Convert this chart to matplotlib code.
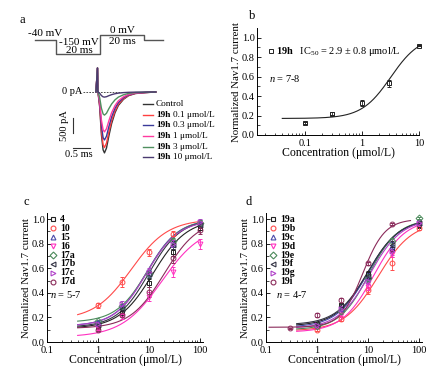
import numpy as np
import matplotlib
matplotlib.use('Agg')
import matplotlib.pyplot as plt

plt.rcParams['font.family'] = ['Liberation Serif', 'DejaVu Serif']
plt.rcParams['mathtext.fontset'] = 'custom'
plt.rcParams['mathtext.rm'] = 'Liberation Serif'
plt.rcParams['mathtext.it'] = 'Liberation Serif:italic'
plt.rcParams['mathtext.bf'] = 'Liberation Serif:bold'

# ---- panel a: voltage protocol and current traces ----
prot_t = [-9.5, 0, 0, 20, 20, 40, 40, 48.6]        # ms
prot_v = [-40, -40, -150, -150, 0, 0, -40, -40]    # mV

trace_bold = ['', '19h', '19h', '19h', '19h', '19h']
trace_labels = ['Control', '0.1 μmol/L', '0.3 μmol/L', '1 μmol/L', '3 μmol/L', '10 μmol/L']
trace_peaks = [2030, 1850, 1600, 1330, 770, 170]   # pA
trace_colors = ['#333333', '#ff4040', '#3a3a9a', '#ff3aa0', '#4f8f5f', '#4a3a70']
# normalised current template (t in ms)
tmpl_t = [0.0, 0.05, 0.10, 0.15, 0.19, 0.25, 0.32, 0.40, 0.50, 0.60, 0.75, 0.90, 1.10, 1.40, 1.70]
tmpl_i = [0.0, 0.25, 0.70, 0.95, 1.00, 0.92, 0.72, 0.52, 0.34, 0.22, 0.12, 0.06, 0.025, 0.01, 0.0]
art_t = [-0.06, -0.015, -0.005]
art_i = [0.0, 800, 0.0]

# ---- panel b ----
b_conc = [0.1, 0.3, 1, 3, 10]
b_val = [0.12, 0.22, 0.33, 0.53, 0.92]
b_err = [0.01, 0.015, 0.03, 0.04, 0.01]
b_fit = (0.17, 1.02, 3.2, 1.7)   # bottom, top, IC50, hill

# ---- panel c ----
c_names = ['4', '10', '15', '16', '17a', '17b', '17c', '17d']
c_conc = [1, 3, 10, 30, 100]
c_vals = [[0.12, 0.24, 0.48, 0.73, 0.93],
          [0.30, 0.49, 0.73, 0.88, 0.97],
          [0.16, 0.29, 0.56, 0.80, 0.97],
          [0.11, 0.21, 0.37, 0.57, 0.80],
          [0.17, 0.29, 0.55, 0.82, 0.97],
          [0.14, 0.27, 0.55, 0.79, 0.95],
          [0.15, 0.31, 0.57, 0.80, 0.98],
          [0.10, 0.22, 0.41, 0.68, 0.91]]
c_errs = [[0.01, 0.02, 0.03, 0.03, 0.02],
          [0.02, 0.04, 0.03, 0.02, 0.01],
          [0.01, 0.02, 0.03, 0.03, 0.02],
          [0.01, 0.02, 0.04, 0.04, 0.04],
          [0.01, 0.02, 0.03, 0.03, 0.02],
          [0.01, 0.02, 0.03, 0.03, 0.02],
          [0.01, 0.02, 0.03, 0.03, 0.02],
          [0.01, 0.02, 0.04, 0.04, 0.03]]
c_fits = [(0.11, 1.00, 12, 1.3), (0.18, 1.00, 4.5, 1.2), (0.13, 1.00, 9, 1.4), (0.04, 0.95, 18, 1.1),
          (0.16, 1.00, 9.5, 1.4), (0.12, 1.00, 10, 1.4), (0.13, 0.99, 9, 1.4), (0.11, 1.00, 20, 1.3)]

# ---- panel d ----
d_names = ['19a', '19b', '19c', '19d', '19e', '19f', '19g', '19i']
d_conc = [[1, 3, 10, 30, 100]] * 7 + [[0.3, 1, 3, 10, 30]]
d_vals = [[0.15, 0.30, 0.55, 0.76, 0.95],
          [0.10, 0.19, 0.42, 0.64, 0.93],
          [0.14, 0.27, 0.53, 0.78, 0.97],
          [0.12, 0.22, 0.45, 0.72, 0.96],
          [0.13, 0.25, 0.52, 0.82, 1.01],
          [0.15, 0.29, 0.54, 0.79, 0.97],
          [0.14, 0.27, 0.50, 0.74, 0.97],
          [0.11, 0.22, 0.34, 0.64, 0.96]]
d_errs = [[0.01, 0.02, 0.03, 0.03, 0.02],
          [0.01, 0.02, 0.03, 0.05, 0.02],
          [0.01, 0.02, 0.03, 0.03, 0.02],
          [0.01, 0.02, 0.03, 0.03, 0.02],
          [0.01, 0.02, 0.03, 0.03, 0.01],
          [0.01, 0.02, 0.03, 0.03, 0.02],
          [0.01, 0.02, 0.03, 0.03, 0.02],
          [0.005, 0.015, 0.02, 0.01, 0.01]]
d_fits = [(0.13, 1.00, 10, 1.4), (0.09, 0.98, 16, 1.3), (0.12, 1.00, 10, 1.4), (0.08, 1.00, 13, 1.4),
          (0.10, 1.00, 10.5, 1.5), (0.14, 1.00, 10, 1.4), (0.11, 1.00, 11, 1.4), (0.12, 1.00, 8, 2.0)]
d_fit_range = [(0.4, 100)] * 7 + [(0.115, 69)]

markers = ['s', 'o', '^', 'v', 'D', '<', '>', 'o']
mcolors = ['#222222', '#ff4a4a', '#4a4aa8', '#ff30c0', '#4a8a5a', '#333344', '#b040c8', '#8a2a5a']


def hill(x, p):
    bottom, top, ic50, h = p
    return bottom + (top - bottom) / (1 + (ic50 / x) ** h)


W, H = 438, 376
fig = plt.figure(figsize=(W / 100, H / 100), dpi=100)


def px_axes(x0, y0, x1, y1):
    return fig.add_axes([x0 / W, 1 - y1 / H, (x1 - x0) / W, (y1 - y0) / H])


# protocol
axp = px_axes(35, 35, 163, 54)
axp.plot(prot_t, prot_v, color='#555555', lw=1.0, clip_on=False)
axp.set_xlim(-9.5, 48.6)
axp.set_ylim(-150, 0)
axp.axis('off')
axp.text(-5, 8, '-40 mV', ha='center', va='center', fontsize=8)
axp.text(10.5, -63, '-150 mV', ha='center', va='center', fontsize=8)
axp.text(10.5, -126, '20 ms', ha='center', va='center', fontsize=8)
axp.text(30, 32, '0 mV', ha='center', va='center', fontsize=8)
axp.text(30, -55, '20 ms', ha='center', va='center', fontsize=8)

# traces
axt = px_axes(60, 60, 160, 160)
axt.set_xlim((60 - 98) / 34, (160 - 98) / 34)
axt.set_ylim((92 - 160) / 0.03, (92 - 60) / 0.03)
axt.axis('off')
axt.plot([-0.44, 1.38], [0, 0], ls=(0, (2, 1.5)), color='#333333', lw=0.6)
for pk, col in zip(trace_peaks, trace_colors):
    axt.plot(art_t + tmpl_t, art_i + [-pk * v for v in tmpl_i], color=col, lw=1.0)
axt.text(-0.47, 0, '0 pA', ha='right', va='center', fontsize=7.5)
axt.plot([-0.735, -0.735], [-867, -1367], color='#333333', lw=0.8)
axt.plot([-0.735, -0.235], [-1867, -1867], color='#333333', lw=0.8)
axt.text(-0.98, -1117, '500 pA', rotation=90, ha='center', va='center', fontsize=7.5)
axt.text(-0.55, -1950, '0.5 ms', ha='center', va='top', fontsize=7.5)
# legend of traces, one row per trace
for i, (bl, lab, col) in enumerate(zip(trace_bold, trace_labels, trace_colors)):
    yy = -400 - 355 * i
    axt.plot([1.32, 1.62], [yy, yy], color=col, lw=1.0, clip_on=False)
    if bl:
        axt.text(1.70, yy, bl, fontsize=6.7, fontweight='bold', va='center', ha='left')
        axt.annotate(lab, (1.70, yy), xytext=(12.5, 0), textcoords='offset points',
                     fontsize=6.7, va='center', ha='left')
    else:
        axt.text(1.70, yy, lab, fontsize=6.7, va='center', ha='left')


def style_axes(ax, xlim, ylim):
    ax.set_xscale('log')
    ax.set_xlim(*xlim)
    ax.set_ylim(*ylim)
    for s in ['top', 'right']:
        ax.spines[s].set_visible(False)
    ax.spines['left'].set_linewidth(0.7)
    ax.spines['bottom'].set_linewidth(0.7)
    ax.tick_params(direction='in', labelsize=7.5, width=0.6, length=3, pad=1.5)
    ax.tick_params(axis='x', pad=3)
    ax.tick_params(which='minor', direction='in', width=0.5, length=1.8)
    ax.set_yticks([0, 0.2, 0.4, 0.6, 0.8, 1.0])
    ax.set_yticklabels(['0.0', '0.2', '0.4', '0.6', '0.8', '1.0'])
    ax.set_yticks(np.arange(0.1, 1.0, 0.2), minor=True)
    ax.xaxis.set_major_formatter(matplotlib.ticker.FuncFormatter(lambda v, _: '%g' % v))
    ax.set_xlabel('Concentration (μmol/L)', fontsize=8.5, labelpad=-1)
    ax.set_ylabel('Normalized Nav1.7 current', fontsize=7.8, labelpad=1)


# panel b
axb = px_axes(257, 28, 419, 135)
style_axes(axb, (0.0144, 10), (0, 1.1))
xs = np.logspace(np.log10(0.04), 1, 200)
axb.plot(xs, hill(xs, b_fit), color='#222222', lw=0.8)
axb.errorbar(b_conc, b_val, yerr=b_err, fmt='s', ms=3.5, mfc='none', mec='#222222', mew=0.7,
             ecolor='#222222', elinewidth=0.6, capsize=1.2, clip_on=False)
axb.plot([0.025], [0.86], 's', ms=3.5, mfc='none', mec='#222222', mew=0.7)
axb.text(0.031, 0.86, r'$\mathbf{19h}$   IC$_{50}$ = 2.9 ± 0.8 μmol/L', fontsize=7.5, va='center')
axb.text(0.023, 0.58, r'$n$ = 7-8', fontsize=7.5, va='center')


def conc_panel(ax, names, concs, vals, errs, fits, ranges, ntext, mx, tx, nx):
    style_axes(ax, (0.1, 116), (0, 1.05))
    for i in range(len(names)):
        lo, hi = ranges[i]
        xs = np.logspace(np.log10(lo), np.log10(hi), 200)
        ax.plot(xs, hill(xs, fits[i]), color=mcolors[i], lw=0.8)
    for i in range(len(names)):
        ax.errorbar(concs[i], vals[i], yerr=errs[i], fmt=markers[i], ms=3.5, mfc='none',
                    mec=mcolors[i], mew=0.7, ecolor=mcolors[i], elinewidth=0.6, capsize=1.2,
                    clip_on=False)
        yy = 1.0 - 0.073 * i
        ax.plot([mx], [yy], markers[i], ms=3.5, mfc='none', mec=mcolors[i], mew=0.8)
        ax.text(tx, yy, names[i], fontsize=7, fontweight='bold', va='center')
    ax.text(nx, 0.39, ntext, fontsize=7.5, va='center')


ax_c = px_axes(47, 213, 203, 342)
conc_panel(ax_c, c_names, [c_conc] * 8, c_vals, c_errs, c_fits, [(0.4, 100)] * 8, r'$n$ = 5-7',
           0.13, 0.18, 0.112)
ax_d = px_axes(266, 213, 422, 342)
conc_panel(ax_d, d_names, d_conc, d_vals, d_errs, d_fits, d_fit_range, r'$n$ = 4-7',
           0.14, 0.19, 0.16)

fig.text(20 / W, 1 - 20 / H, 'a', fontsize=9, va='center')
fig.text(249 / W, 1 - 16 / H, 'b', fontsize=9, va='center')
fig.text(24 / W, 1 - 202 / H, 'c', fontsize=9, va='center')
fig.text(245 / W, 1 - 202 / H, 'd', fontsize=9, va='center')

fig.savefig('out.png', dpi=100)
